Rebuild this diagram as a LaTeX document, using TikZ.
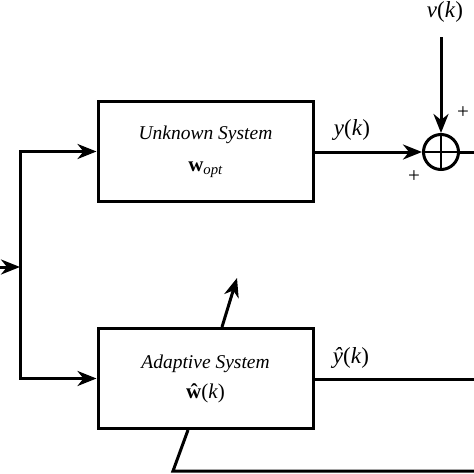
\documentclass[tikz,border=0pt]{standalone}
\usepackage{fontspec}
\setmainfont{Liberation Serif}
\usetikzlibrary{
    positioning,      % For placing nodes relative to each other
    arrows.meta,      % For modern arrow tips
    calc              % For coordinate calculations
}

\begin{document}
\begin{tikzpicture}[
    x=1pt, y=-1pt,
    % Global style settings
    line_style/.style={
        line width=3pt,
        line cap=butt
    },
    arrow_tip/.style={
        -{Stealth[length=19pt, width=15pt, inset=6pt]}
    },
    block_style/.style={ % Style for the two system blocks
        draw, line_style,
        minimum width=215pt, minimum height=100pt,
        align=center, inner sep=0pt,
        font=\fontsize{19.5}{23}\selectfont\itshape
    },
    label_style/.style={ % Style for the signal labels
        font=\fontsize{23}{27}\selectfont,
        inner sep=1pt
    },
    sign_style/.style={
        font=\fontsize{21}{24}\selectfont,
        inner sep=0pt
    }
]
    \useasboundingbox (0,0) rectangle (474,474);

    % 1. The two system blocks.
    \node[block_style] (unknown) at (205.5,151.5)
        {Unknown System\\[9pt]\upshape\fontsize{21}{24}\selectfont\textbf{w}\textsubscript{\itshape opt}};
    \node[block_style] (adaptive) at (205.5,378.5)
        {Adaptive System\\[7pt]\upshape\fontsize{21}{24}\selectfont\textbf{ŵ}(\textit{k})};

    % 2. Summing junction with its cross.
    \node[draw, line_style, circle, minimum size=35pt, inner sep=0pt] (sum) at (441,152) {};
    \draw[line width=2.2pt] (sum.north) -- (sum.south);
    \draw[line width=2.2pt] (sum.west) -- (sum.east);

    % 3. Input, split point and the free ends on the border.
    \coordinate (input) at (0,267);
    \coordinate (split) at (20,267);
    \coordinate (noise_top) at (441,37);
    \coordinate (error_out) at (474,152);
    \coordinate (estimate_out) at (474,379);
    \coordinate (feedback_in) at (474,471);
    \coordinate (feedback_corner) at (173,471);

    % 4. Connectors.
    \draw[line_style, arrow_tip] (input) -- (split);
    \draw[line_style, arrow_tip] (split) |- (unknown.west);
    \draw[line_style, arrow_tip] (split) |- (adaptive.west);
    \draw[line_style, arrow_tip] (unknown.east |- sum.west) -- (sum.west);
    \draw[line_style, arrow_tip] (noise_top) -- (sum.north);
    \draw[line_style] (sum.east) -- (error_out);
    \draw[line_style] (adaptive.east |- estimate_out) -- (estimate_out);
    \draw[line_style] (feedback_in) -- (feedback_corner) -- ($(adaptive.south)+(-17.5,0)$);

    % Adjustment arrow through the top of the adaptive block
    \draw[line_style, arrow_tip] ($(adaptive.north)+(16.5,0)$) -- ++(15,-49);

    % 5. Signal labels and signs.
    \node[label_style] (v_label) at (445,12) {\textit{v}(\textit{k})};
    \node[label_style] (y_label) at (352,130) {\textit{y}(\textit{k})};
    \node[label_style] (yhat_label) at (351,358) {\textit{ŷ}(\textit{k})};
    \node[sign_style] (plus_top) at (463,113) {+};
    \node[sign_style] (plus_left) at (414,177) {+};

\end{tikzpicture}
\end{document}
